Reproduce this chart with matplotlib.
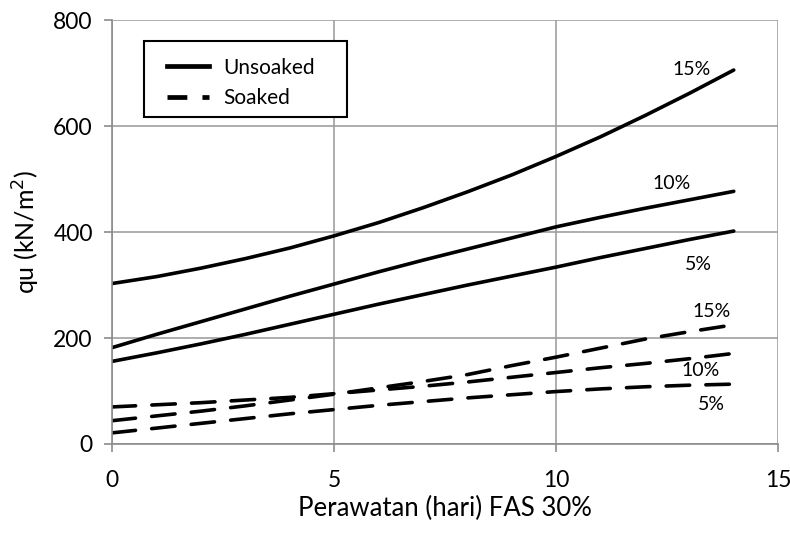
import matplotlib.pyplot as plt
from matplotlib.lines import Line2D
from matplotlib.patches import Rectangle

# Curing time (days) and unconfined compressive strength qu (kN/m2)
days = list(range(15))

unsoaked_5 = [156, 172, 189, 207, 226, 245, 264, 282, 300, 317, 334, 352, 369, 386, 402]
unsoaked_10 = [182, 207, 231, 255, 279, 302, 325, 347, 368, 389, 410, 428, 445, 461, 477]
unsoaked_15 = [303, 316, 332, 350, 370, 393, 418, 446, 476, 508, 543, 580, 620, 662, 706]

soaked_5 = [21, 30, 39, 48, 57, 65, 73, 80, 87, 93, 99, 104, 108, 111, 113]
soaked_10 = [70, 74, 78, 83, 88, 95, 102, 109, 117, 126, 135, 144, 152, 161, 171]
soaked_15 = [44, 53, 62, 72, 83, 94, 106, 118, 131, 148, 164, 181, 198, 212, 225]

# curve labels: text, x, y
labels = [
    ('15%', 13.05, 707), ('10%', 12.6, 492), ('5%', 13.2, 338),
    ('15%', 13.5, 250), ('10%', 13.25, 138), ('5%', 13.5, 75),
]

plt.rcParams['font.family'] = ['Lato', 'DejaVu Sans']

fig = plt.figure(figsize=(7.9, 5.33), dpi=100)
ax = fig.add_axes([0.142, 0.167, 0.843, 0.795])

lw = 2.6
dash = (6.5, 4.5)
for y in (unsoaked_5, unsoaked_10, unsoaked_15):
    ax.plot(days, y, color='black', lw=lw, solid_capstyle='round',
            solid_joinstyle='round')
for y in (soaked_5, soaked_10, soaked_15):
    ax.plot(days, y, color='black', lw=lw, dashes=dash, dash_capstyle='round')

for txt, x, y in labels:
    ax.text(x, y, txt, fontsize=14, ha='center', va='center')

ax.set_xlim(0, 15)
ax.set_ylim(0, 800)
ax.set_xticks([0, 5, 10, 15])
ax.set_yticks([0, 200, 400, 600, 800])
ax.grid(True, color='#a0a0a0', lw=1.2)
ax.set_axisbelow(True)
for s in ('top', 'right'):
    ax.spines[s].set_visible(False)
for s in ('left', 'bottom'):
    ax.spines[s].set_color('#8c8c8c')
    ax.spines[s].set_linewidth(1.2)
ax.tick_params(axis='both', colors='#8c8c8c', labelcolor='black',
               labelsize=16.5, length=6, width=1.2)
ax.tick_params(axis='x', pad=13)
ax.tick_params(axis='y', pad=8)

ax.set_xlabel('Perawatan (hari) FAS 30%', fontsize=18.5, labelpad=3)
ax.set_ylabel('qu (kN/m$^2$)', fontsize=18, labelpad=8)

# legend box drawn separately so its size can be set freely
ax.add_patch(Rectangle((0.048, 0.771), 0.305, 0.179, transform=ax.transAxes,
                       facecolor='white', edgecolor='black', lw=1.5, zorder=4))
handles = [
    Line2D([], [], color='black', lw=3.4),
    Line2D([], [], color='black', lw=3.4, dashes=(4.2, 3.2)),
]
leg = ax.legend(handles, ['Unsoaked', 'Soaked'], loc='upper left',
                bbox_to_anchor=(0.0826, 0.912), fontsize=15, frameon=False,
                handlelength=2.0, borderpad=0, labelspacing=0.5,
                handletextpad=0.7, borderaxespad=0)
leg.set_zorder(5)

fig.savefig('out.png', dpi=100)
